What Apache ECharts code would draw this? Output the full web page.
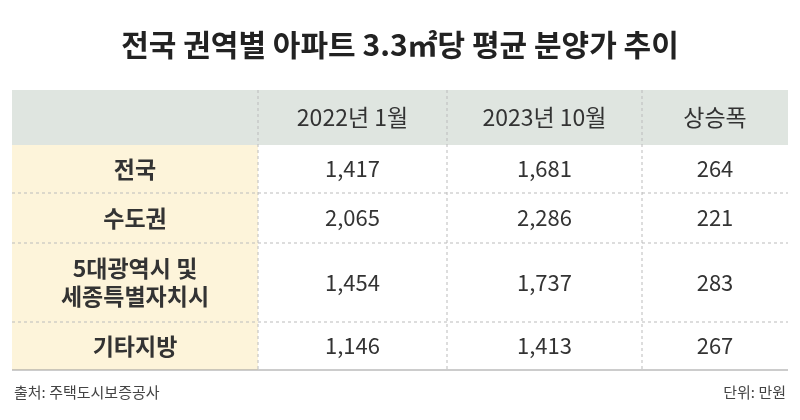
<!DOCTYPE html><html><head><meta charset="utf-8">
<script src="https://cdn.jsdelivr.net/npm/echarts@6/dist/echarts.min.js"></script>
<style>html,body{margin:0;background:#fff}#c{width:800px;height:420px}</style></head><body><div id="c"></div>
<script>
const title='전국 권역별 아파트 3.3㎡당 평균 분양가 추이';
const headers=['','2022년 1월','2023년 10월','상승폭'];
const regions=['전국','수도권','5대광역시 및\n세종특별자치시','기타지방'];
const jan2022=['1,417','2,065','1,454','1,146'];
const oct2023=['1,681','2,286','1,737','1,413'];
const rise=['264','221','283','267'];
const source='출처: 주택도시보증공사';
const unit='단위: 만원';

const F='"Noto Sans CJK KR", sans-serif';
const colX=[12,258,447,642,788];
const rowY=[90,145,193,243,322,370];
const g=[];
function txt(x,y,s,size,weight,color,align){g.push({type:'text',x,y,style:{text:s,font:(weight||'normal')+' '+size+'px '+F,fill:color||'#333',align:align||'center',verticalAlign:'middle',lineHeight:size*1.2}});}
txt(400,45,title,30,'bold','#222');
g.push({type:'rect',shape:{x:colX[0],y:rowY[0],width:colX[4]-colX[0],height:rowY[1]-rowY[0]},style:{fill:'#dfe5e0'}});
g.push({type:'rect',shape:{x:colX[0],y:rowY[1],width:colX[1]-colX[0],height:rowY[5]-rowY[1]},style:{fill:'#fdf4da'}});
for(let i=2;i<5;i++)g.push({type:'line',shape:{x1:colX[0],y1:rowY[i],x2:colX[4],y2:rowY[i]},style:{stroke:'#bbb',lineWidth:1,lineDash:[3,3]}});
g.push({type:'line',shape:{x1:colX[0],y1:rowY[5],x2:colX[4],y2:rowY[5]},style:{stroke:'#999',lineWidth:1}});
for(let j=1;j<4;j++)g.push({type:'line',shape:{x1:colX[j],y1:rowY[0],x2:colX[j],y2:rowY[5]},style:{stroke:'#bbb',lineWidth:1,lineDash:[3,3]}});
const cx=j=>(colX[j]+colX[j+1])/2, cy=i=>(rowY[i]+rowY[i+1])/2;
headers.forEach((h,j)=>txt(cx(j),cy(0),h,23,'normal','#333'));
const cols=[regions,jan2022,oct2023,rise];
for(let i=0;i<regions.length;i++)cols.forEach((c,j)=>txt(cx(j),cy(i+1),c[i],j===0?23:22,j===0?'bold':'normal','#333'));
txt(14,392,source,15,'normal','#444','left');
txt(786,392,unit,15,'normal','#444','right');
const ch=echarts.init(document.getElementById('c'));
ch.setOption({graphic:g});
</script></body></html>
